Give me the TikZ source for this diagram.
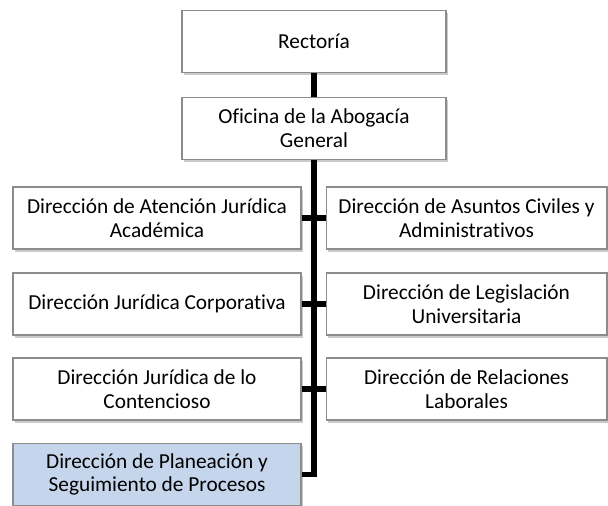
\documentclass[tikz,border=0pt]{standalone}
\usepackage{fontspec}
\setmainfont{Carlito}[Ligatures=NoCommon]
\usetikzlibrary{positioning, shadows}

\definecolor{boxline}{RGB}{140,140,140}
\definecolor{plafill}{RGB}{197,214,236}

\begin{document}
\begin{tikzpicture}[x=0.75pt,y=-0.75pt]

	\tikzset{
		unit/.style={
				rectangle, draw=boxline, fill=white, line width=1pt, align=center, inner sep=2pt,
				font=\fontsize{16}{17.8}\selectfont,
				drop shadow={shadow xshift=1.2pt, shadow yshift=-2.2pt, opacity=0.35, fill=black!60}
			},
		topunit/.style={unit, minimum width=198pt, minimum height=46.5pt},
		leftunit/.style={unit, minimum width=216pt, minimum height=46.5pt},
		rightunit/.style={unit, minimum width=210.5pt, minimum height=46.5pt},
		trunk/.style={line width=4pt, black},
	}
	\useasboundingbox (0,0) rectangle (608,506);

	\node[topunit](r) at (314,41.5){Rectoría};
	\node[topunit](o) at (314,128.5){Oficina de la Abogacía\\General};

	\node[leftunit](l1) at (157,218){Dirección de Atención Jurídica\\Académica};
	\node[leftunit](l2) at (157,304){Dirección Jurídica Corporativa};
	\node[leftunit](l3) at (157,389){Dirección Jurídica de lo\\Contencioso};
	\node[leftunit, fill=plafill](l4) at (157,474.5){Dirección de Planeación y\\Seguimiento de Procesos};

	\node[rightunit](d1) at (466.5,218){Dirección de Asuntos Civiles y\\Administrativos};
	\node[rightunit](d2) at (466.5,304){Dirección de Legislación\\Universitaria};
	\node[rightunit](d3) at (466.5,389){Dirección de Relaciones\\Laborales};

	\draw[trunk] (r.south) -- (o.north);
	\draw[trunk] (o.south) |- (l4.east);

	\draw[trunk] (l1.east) -- (l1.east -| o.south);
	\draw[trunk] (l2.east) -- (l2.east -| o.south);
	\draw[trunk] (l3.east) -- (l3.east -| o.south);

	\draw[trunk] (d1.west) -- (d1.west -| o.south);
	\draw[trunk] (d2.west) -- (d2.west -| o.south);
	\draw[trunk] (d3.west) -- (d3.west -| o.south);

\end{tikzpicture}
\end{document}
